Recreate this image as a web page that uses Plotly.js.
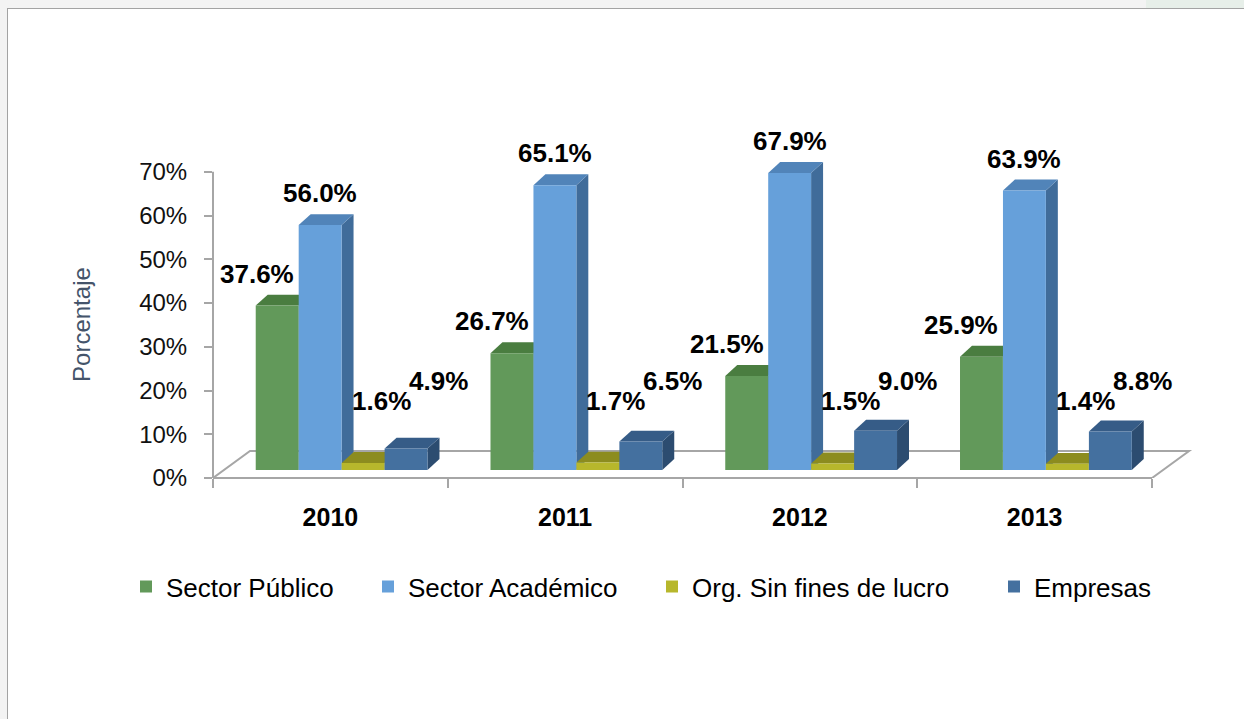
<!DOCTYPE html>
<html><head><meta charset="utf-8">
<script src="https://cdn.plot.ly/plotly-3.0.1.min.js"></script>
<style>
html,body{margin:0;padding:0;background:#f3f3f3;width:1244px;height:719px;overflow:hidden;}
#tab{position:absolute;left:1146px;top:0;width:98px;height:8px;background:#e7efe9;}
#frame{position:absolute;left:7px;top:8px;width:1237px;height:711px;border-left:1px solid #a3a3a3;border-top:1px solid #a3a3a3;background:#fff;}
#chart{width:1236px;height:710px;}
</style></head><body>
<div id="tab"></div>
<div id="frame"><div id="chart"></div></div>
<script>
// ---- data ----
const years = ['2010', '2011', '2012', '2013'];
const sectorPublico = [37.6, 26.7, 21.5, 25.9];
const sectorAcademico = [56.0, 65.1, 67.9, 63.9];
const orgSinFines = [1.6, 1.7, 1.5, 1.4];
const empresas = [4.9, 6.5, 9.0, 8.8];
const seriesNames = ['Sector Público', 'Sector Académico', 'Org. Sin fines de lucro', 'Empresas'];
const yTickValues = [0, 10, 20, 30, 40, 50, 60, 70];
const yTitle = 'Porcentaje';

// ---- styling (3D look) ----
const FONT = 'Liberation Sans, Arial, sans-serif';
const AXIS_GRAY = '#a6a6a6';
const W = 0.1827;          // bar width (category units)
const BASE = 1.83;         // floor lift of the 3D projection
const DX = 0.051, DY = 2.5; // bar depth
const FDX = 0.1576, FDY = 6.18; // floor depth
const XMIN = -0.5, XMAX = 3.5, YMAX = 70;
const styles = [
  {front: '#62995a', top: '#4a7d40', side: '#3f6b36', offset: -0.318, labelDx: -20, labelMin: 10.5, legendX: 126},
  {front: '#66a0da', top: '#5184b9', side: '#406c9a', offset: -0.135, labelDx: 0, labelMin: 10.5, legendX: 368},
  {front: '#b7b72c', top: '#8c8c1f', side: '#77771a', offset: 0.048, labelDx: 18, labelMin: 8.5, legendX: 652},
  {front: '#44709f', top: '#365c87', side: '#2c4c70', offset: 0.231, labelDx: 32, labelMin: 13, legendX: 994}
];
const allSeries = [sectorPublico, sectorAcademico, orgSinFines, empresas];
const xIdx = years.map((_, j) => j);

// plot geometry (pixels inside the chart div)
const CH_W = 1236, CH_H = 710, ML = 205, MR = 45, MT = 141, MB = 241;
const X_RANGE = [XMIN, XMAX + 0.2], Y_RANGE = [0, 75];
const plotW = CH_W - ML - MR;
const legendKeys = ['legend', 'legend2', 'legend3', 'legend4'];

const traces = allSeries.map((vals, i) => ({
  type: 'bar', name: seriesNames[i], x: xIdx, y: vals, base: BASE,
  width: W, offset: styles[i].offset, legend: legendKeys[i],
  marker: {color: styles[i].front, line: {width: 0}},
  hovertemplate: seriesNames[i] + ' %{customdata}: %{y:.1f}%<extra></extra>',
  customdata: years
}));

const shapes = [];
// floor outline
shapes.push({type: 'path', layer: 'below', xref: 'x', yref: 'y',
  path: `M ${XMIN},0 L ${XMIN + FDX},${FDY} L ${XMAX + FDX},${FDY} L ${XMAX},0`,
  line: {color: AXIS_GRAY, width: 2}});
// axis lines (stop at the data frame)
shapes.push({type: 'line', layer: 'above', xref: 'x', yref: 'paper', x0: XMIN, x1: XMAX, y0: 0, y1: 0,
  line: {color: AXIS_GRAY, width: 2}});
shapes.push({type: 'line', layer: 'above', xref: 'paper', yref: 'y', x0: 0, x1: 0, y0: 0, y1: YMAX,
  line: {color: AXIS_GRAY, width: 2}});
// faces
allSeries.forEach((vals, i) => {
  const s = styles[i];
  vals.forEach((v, j) => {
    const x0 = j + s.offset, x1 = x0 + W, y0 = BASE, y1 = BASE + v;
    shapes.push({type: 'path', layer: 'below', xref: 'x', yref: 'y',
      path: `M ${x1},${y0} L ${x1 + DX},${y0 + DY} L ${x1 + DX},${y1 + DY} L ${x1},${y1} Z`,
      fillcolor: s.side, line: {width: 0}});
    shapes.push({type: 'path', layer: 'below', xref: 'x', yref: 'y',
      path: `M ${x0},${y1} L ${x0 + DX},${y1 + DY} L ${x1 + DX},${y1 + DY} L ${x1},${y1} Z`,
      fillcolor: s.top, line: {width: 0}});
  });
});

const annotations = [];
allSeries.forEach((vals, i) => {
  vals.forEach((v, j) => {
    annotations.push({
      xref: 'x', yref: 'y', x: j + styles[i].offset + W / 2, y: BASE + Math.max(v, styles[i].labelMin),
      xshift: styles[i].labelDx, yshift: 32, showarrow: false,
      text: v.toFixed(1) + '%', xanchor: 'center', yanchor: 'middle',
      font: {family: FONT, size: 26, color: '#000', weight: 'bold'}
    });
  });
});
// y-axis title, centred on the 0–70% frame
annotations.push({
  xref: 'paper', yref: 'y', x: (74 - ML) / plotW, y: YMAX / 2, textangle: -90,
  text: yTitle, showarrow: false, xanchor: 'center', yanchor: 'middle',
  font: {family: FONT, size: 24, color: '#44546a'}
});

const layout = {
  width: CH_W, height: CH_H,
  margin: {l: ML, r: MR, t: MT, b: MB},
  paper_bgcolor: '#fff', plot_bgcolor: 'rgba(0,0,0,0)',
  barmode: 'overlay',
  showlegend: true,
  xaxis: {
    type: 'linear', range: X_RANGE, tickmode: 'array', tickvals: xIdx, ticktext: years,
    ticks: '', showline: false,
    showgrid: false, zeroline: false, ticklabelstandoff: 22,
    minor: {tick0: 0.5, dtick: 1, ticks: 'outside', ticklen: 9, tickcolor: AXIS_GRAY, tickwidth: 2, showgrid: false},
    tickfont: {family: FONT, size: 25, color: '#000', weight: 'bold'}
  },
  yaxis: {
    range: Y_RANGE, tickmode: 'array', tickvals: yTickValues,
    ticktext: yTickValues.map(v => v + '%'),
    ticks: 'outside', ticklen: 8, tickcolor: AXIS_GRAY, tickwidth: 2,
    showline: false,
    showgrid: false, zeroline: false, ticklabelstandoff: 12,
    tickfont: {family: FONT, size: 24, color: '#111'}
  },
  shapes: shapes,
  annotations: annotations
};
// one legend box per series so each entry sits where the reference has it
styles.forEach((s, i) => {
  layout[legendKeys[i]] = {
    orientation: 'h', x: (s.legendX - 8 - ML) / plotW, xanchor: 'left',
    y: -0.355 * 306 / (CH_H - MT - MB), yanchor: 'middle',
    font: {family: FONT, size: 26, color: '#000'}, bgcolor: 'rgba(0,0,0,0)'
  };
});

Plotly.newPlot('chart', traces, layout, {displayModeBar: false, staticPlot: true});
</script>
</body></html>
